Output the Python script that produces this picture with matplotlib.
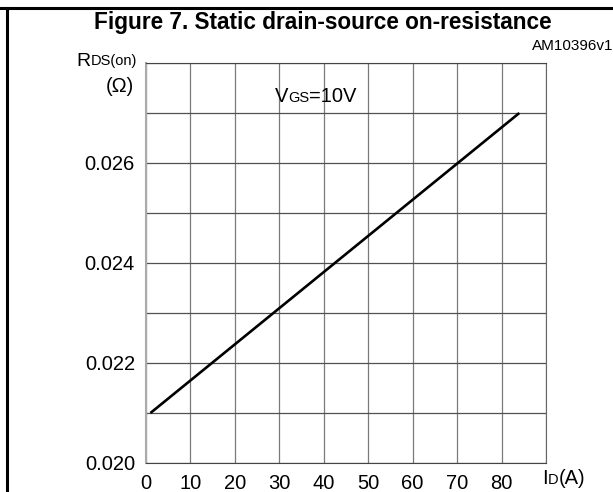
import matplotlib
matplotlib.use("Agg")
from matplotlib import pyplot as plt
from matplotlib.lines import Line2D
from matplotlib.offsetbox import TextArea, HPacker, AnnotationBbox
import numpy as np

plt.rcParams['font.family'] = ['Liberation Sans', 'DejaVu Sans']

# data
id_a = [1, 84]
rds_on = [0.021, 0.027]
x_ticks = [0, 10, 20, 30, 40, 50, 60, 70, 80, 90]
x_labels = ["0", "10", "20", "30", "40", "50", "60", "70", "80", ""]
y_ticks = [0.020, 0.021, 0.022, 0.023, 0.024, 0.025, 0.026, 0.027, 0.028]
y_labels = ["0.020", "", "0.022", "", "0.024", "", "0.026", "", ""]

W, H = 613, 492
fig = plt.figure(figsize=(W / 100, H / 100), dpi=100)
ax = fig.add_axes([146 / W, 1 - 463 / H, 400 / W, 400 / H])

ax.plot(id_a, rds_on, color="black", lw=1.9, solid_capstyle="butt")
ax.set_xlim(0, 90)
ax.set_ylim(0.020, 0.028)
ax.set_xticks(x_ticks)
ax.set_xticklabels(x_labels, fontsize=14.5)
ax.set_yticks(y_ticks)
ax.set_yticklabels(y_labels, fontsize=14.5)
ax.tick_params(length=0, pad=8)
ax.grid(True, axis="x", color="#7a7a7a", lw=0.9)
ax.grid(True, axis="y", color="#505050", lw=0.9)
for s in ["top", "bottom"]:
    ax.spines[s].set_color("#444444")
ax.spines["left"].set_color("#aaaaaa")
ax.spines["left"].set_linewidth(1.5)
ax.spines["right"].set_color("#666666")

# frame lines of the datasheet box
fig.add_artist(Line2D([0, 1], [1 - 8 / H, 1 - 8 / H], color="black", lw=2.2))
fig.add_artist(Line2D([7 / W, 7 / W], [0, 1 - 8 / H], color="black", lw=2.2))

fig.text(323 / W, 1 - 22 / H, "Figure 7. Static drain-source on-resistance",
         fontsize=16.3, fontweight="bold", ha="center", va="center")
fig.text(613 / W, 1 - 46 / H, "AM10396v1", fontsize=11, ha="right", va="center")


def label(parts, xy, box_align):
    boxes = [TextArea(t, textprops=dict(fontsize=fs, family=['Liberation Sans'])) for t, fs in parts]
    pack = HPacker(children=boxes, align="baseline", pad=0, sep=0)
    ab = AnnotationBbox(pack, xy, xycoords="figure pixels", box_alignment=box_align,
                        frameon=False, pad=0)
    fig.add_artist(ab)


label([("R", 14), ("DS(on)", 10.5)], (137, H - 61), (1.0, 0.5))
fig.text(134 / W, 1 - 87 / H, "(\u03a9)", fontsize=14.5, ha="right", va="center")
label([("V", 14.5), ("GS", 10.5), ("=10V", 14.5)], (275, H - 97), (0.0, 0.5))
label([("I", 14.5), ("D", 10.5), ("(A)", 14.5)], (542, H - 479), (0.0, 0.5))

fig.savefig("out.png", dpi=100)
